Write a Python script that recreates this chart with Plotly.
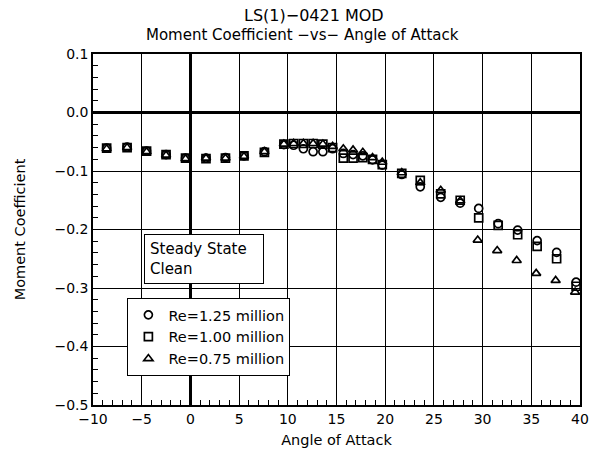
import plotly.graph_objects as go

# Angle of attack (deg) and moment coefficient for each Reynolds number
alpha_125 = [-8.6, -6.5, -4.5, -2.5, -0.5, 1.6, 3.6, 5.5, 7.6, 9.6, 10.6, 11.6, 12.6, 13.6,
             14.6, 15.7, 16.7, 17.7, 18.7, 19.7, 21.7, 23.6, 25.7, 27.7, 29.6, 31.6, 33.6,
             35.6, 37.6, 39.6]
cm_125 = [-0.061, -0.059, -0.066, -0.072, -0.078, -0.078, -0.077, -0.074, -0.067, -0.055,
          -0.056, -0.062, -0.067, -0.067, -0.062, -0.070, -0.072, -0.074, -0.081, -0.090,
          -0.106, -0.127, -0.145, -0.155, -0.164, -0.190, -0.201, -0.219, -0.239, -0.290]

alpha_100 = [-8.6, -6.5, -4.5, -2.5, -0.5, 1.6, 3.6, 5.5, 7.6, 9.6, 10.6, 11.6, 12.6, 13.6,
             14.6, 15.7, 16.7, 17.7, 18.7, 19.7, 21.7, 23.6, 25.7, 27.7, 29.6, 31.6, 33.6,
             35.6, 37.6, 39.6]
cm_100 = [-0.061, -0.060, -0.066, -0.072, -0.078, -0.079, -0.078, -0.074, -0.068, -0.054,
          -0.053, -0.053, -0.053, -0.054, -0.060, -0.078, -0.078, -0.077, -0.080, -0.089,
          -0.104, -0.116, -0.139, -0.150, -0.180, -0.193, -0.209, -0.229, -0.250, -0.297]

alpha_075 = [-8.6, -6.5, -4.5, -2.5, -0.5, 1.6, 3.6, 5.5, 7.6, 9.6, 10.6, 11.6, 12.6, 13.6,
             14.6, 15.7, 16.7, 17.7, 18.7, 19.7, 21.7, 23.6, 25.7, 27.7, 29.5, 31.5, 33.5,
             35.5, 37.5, 39.5]
cm_075 = [-0.062, -0.060, -0.067, -0.073, -0.079, -0.078, -0.078, -0.075, -0.067, -0.054,
          -0.053, -0.053, -0.053, -0.054, -0.058, -0.062, -0.064, -0.068, -0.077, -0.085,
          -0.103, -0.120, -0.133, -0.151, -0.218, -0.236, -0.253, -0.275, -0.287, -0.307]

series_names = ["Re=1.25 million", "Re=1.00 million", "Re=0.75 million"]
x_ticks = [-10, -5, 0, 5, 10, 15, 20, 25, 30, 35, 40]
y_ticks = [-0.5, -0.4, -0.3, -0.2, -0.1, 0.0, 0.1]

FONT = "DejaVu Sans"
fig = go.Figure()
for xs, ys, name, sym in [(alpha_125, cm_125, series_names[0], "circle-open"),
                          (alpha_100, cm_100, series_names[1], "square-open"),
                          (alpha_075, cm_075, series_names[2], "triangle-up-open")]:
    fig.add_trace(go.Scatter(x=xs, y=ys, mode="markers", name=name,
                             marker=dict(symbol=sym, size=8, color="black",
                                         line=dict(width=1.7, color="black"))))

axis_common = dict(showline=True, linecolor="black", linewidth=1.5, mirror=True,
                   showgrid=True, gridcolor="black", gridwidth=1,
                   zeroline=True, zerolinecolor="black", zerolinewidth=3,
                   ticks="inside", ticklen=0, tickcolor="black",
                   tickfont=dict(family=FONT, size=14, color="black"))

fig.update_xaxes(range=[-10, 40], tickvals=x_ticks, ticktext=[str(v).replace("-", "\u2212") for v in x_ticks],
                 minor=dict(dtick=1, ticks="inside", ticklen=5, tickcolor="black", showgrid=False),
                 title=dict(text="Angle of Attack", font=dict(family=FONT, size=14.5, color="black"), standoff=9),
                 **axis_common)
fig.update_yaxes(range=[-0.5, 0.1], tickvals=y_ticks, tickformat=".1f",
                 minor=dict(dtick=0.02, ticks="inside", ticklen=5, tickcolor="black", showgrid=False),
                 title=dict(text="Moment Coefficient", font=dict(family=FONT, size=14.5, color="black"), standoff=25),
                 **axis_common)

fig.add_annotation(text="LS(1)\u22120421 MOD", xref="paper", yref="paper", x=0.4536, y=1.0,
                   yanchor="middle", yshift=39, showarrow=False, font=dict(family=FONT, size=16, color="black"))
fig.add_annotation(text="Moment Coefficient \u2212vs\u2212 Angle of Attack", xref="paper", yref="paper",
                   x=0.431, y=1.0, yanchor="middle", yshift=19, showarrow=False,
                   font=dict(family=FONT, size=15, color="black"))
fig.add_annotation(text="Steady State<br>Clean", xref="paper", yref="paper", x=0.105, y=0.486,
                   xanchor="left", yanchor="top", align="left", showarrow=False,
                   bordercolor="black", borderwidth=1, borderpad=5, bgcolor="white", width=108,
                   font=dict(family=FONT, size=15, color="black"))

fig.update_layout(width=598, height=455, margin=dict(l=93, r=9, t=54, b=47),
                  paper_bgcolor="white", plot_bgcolor="white",
                  legend=dict(x=0.0706, y=0.305, xanchor="left", yanchor="top",
                              bordercolor="black", borderwidth=1, bgcolor="white",
                              font=dict(family=FONT, size=14.5, color="black"),
                              itemwidth=30, tracegroupgap=0),
                  font=dict(family=FONT, color="black"))

fig.write_html("out.html")
